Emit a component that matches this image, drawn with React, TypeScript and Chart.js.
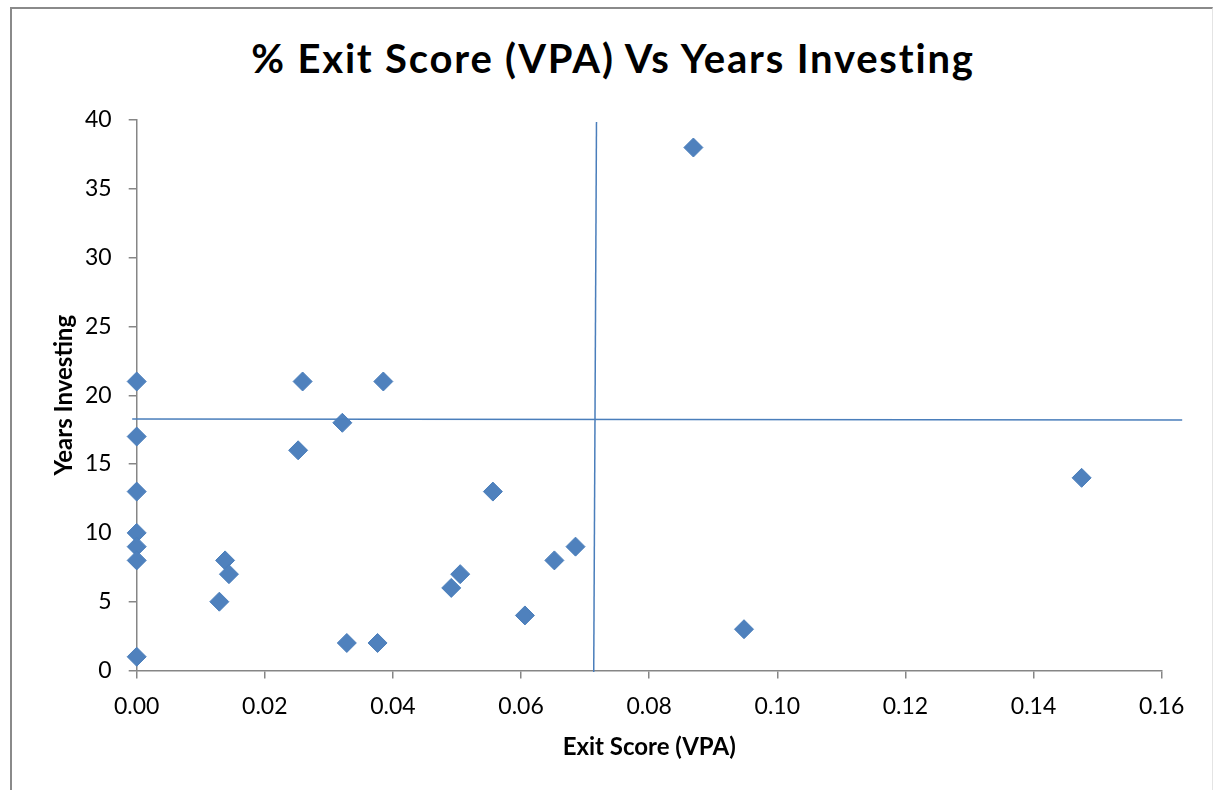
import React, { useEffect, useRef } from "react";
import { Chart, registerables } from "chart.js";

Chart.register(...registerables);

// Scatter data: Exit Score (VPA) vs Years Investing
const exitScores = [
  0.0, 0.0, 0.0, 0.0, 0.0, 0.0, 0.0,
  0.0259, 0.0385, 0.0321, 0.0252, 0.0138, 0.0144, 0.0129, 0.0328, 0.0376,
  0.0491, 0.0505, 0.0556, 0.0606, 0.0652, 0.0685, 0.0869, 0.0948, 0.1475,
];
const yearsInvesting = [
  21, 17, 13, 10, 9, 8, 1,
  21, 21, 18, 16, 8, 7, 5, 2, 2,
  6, 7, 13, 4, 8, 9, 38, 3, 14,
];

// Reference (average) lines drawn across the plot
const horizLineX = [-0.0007, 0.1632];
const horizLineY = [18.28, 18.2];
const vertLineX = [0.07177, 0.07134];
const vertLineY = [39.86, -0.11];

const xTicks = [0, 0.02, 0.04, 0.06, 0.08, 0.1, 0.12, 0.14, 0.16];
const yTicks = [0, 5, 10, 15, 20, 25, 30, 35, 40];

const TITLE = "% Exit Score (VPA) Vs Years Investing";
const X_TITLE = "Exit Score (VPA)";
const Y_TITLE = "Years Investing";

const BLUE = "#4F81BD";
const BLUE_EDGE = "#4A7EBB";
const AXIS_GRAY = "#868686";
const FONT = "Lato, 'Open Sans', sans-serif";

export default function App() {
  const canvasRef = useRef<HTMLCanvasElement | null>(null);

  useEffect(() => {
    if (!canvasRef.current) return;
    const points = exitScores.map((x, i) => ({ x, y: yearsInvesting[i] }));
    const hLine = horizLineX.map((x, i) => ({ x, y: horizLineY[i] }));
    const vLine = vertLineX.map((x, i) => ({ x, y: vertLineY[i] }));

    const chart = new Chart(canvasRef.current, {
      type: "scatter",
      data: {
        datasets: [
          {
            label: "h",
            data: hLine,
            showLine: true,
            borderColor: BLUE_EDGE,
            borderWidth: 1.5,
            pointRadius: 0,
            clip: false as any,
          },
          {
            label: "v",
            data: vLine,
            showLine: true,
            borderColor: BLUE_EDGE,
            borderWidth: 1.5,
            pointRadius: 0,
            clip: false as any,
          },
          {
            label: "Years Investing",
            data: points,
            pointStyle: "rectRot",
            pointRadius: 9.5,
            pointHoverRadius: 9.5,
            backgroundColor: BLUE,
            borderColor: BLUE_EDGE,
            borderWidth: 1,
            clip: false as any,
          },
        ],
      },
      options: {
        animation: false,
        responsive: false,
        maintainAspectRatio: false,
        layout: { padding: { left: 0, top: 120, right: 52.3, bottom: 0 } },
        plugins: {
          legend: { display: false },
          tooltip: { enabled: false },
          title: { display: false },
        },
        scales: {
          x: {
            type: "linear",
            min: 0,
            max: 0.16,
            afterBuildTicks: (scale: any) => {
              scale.ticks = xTicks.map((v) => ({ value: v }));
            },
            afterFit: (scale: any) => {
              scale.height = 119.5;
            },
            grid: {
              drawOnChartArea: false,
              drawTicks: true,
              tickLength: 8,
              color: AXIS_GRAY,
              lineWidth: 1.5,
            },
            border: { display: true, color: AXIS_GRAY, width: 1.5 },
            ticks: {
              padding: 14,
              color: "#000",
              font: { family: FONT, size: 23 },
              maxRotation: 0,
              callback: (v: any) => Number(v).toFixed(2),
            },
            title: {
              display: true,
              text: X_TITLE,
              color: "#000",
              font: { family: FONT, size: 24, weight: "bold" },
              padding: { top: 0, bottom: 28.6 },
            },
          },
          y: {
            type: "linear",
            min: 0,
            max: 40,
            afterBuildTicks: (scale: any) => {
              scale.ticks = yTicks.map((v) => ({ value: v }));
            },
            afterFit: (scale: any) => {
              scale.width = 136.7;
            },
            grid: {
              drawOnChartArea: false,
              drawTicks: true,
              tickLength: 8,
              color: AXIS_GRAY,
              lineWidth: 1.5,
            },
            border: { display: true, color: AXIS_GRAY, width: 1.5 },
            ticks: {
              padding: 17,
              color: "#000",
              font: { family: FONT, size: 23 },
              callback: (v: any) => String(v),
            },
            title: {
              display: true,
              text: Y_TITLE,
              color: "#000",
              font: { family: FONT, size: 24, weight: "bold" },
              padding: { top: 49.6, bottom: 0 },
            },
          },
        },
      },
    });
    return () => chart.destroy();
  }, []);

  return (
    <div
      style={{
        position: "fixed",
        left: 0,
        top: 0,
        width: 1214,
        height: 790,
        background: "#fff",
        overflow: "hidden",
      }}
    >
      <div
        style={{
          position: "absolute",
          left: 10,
          top: 7,
          width: 1200,
          height: 820,
          borderLeft: "2px solid #8a8a8a",
          borderTop: "2px solid #8a8a8a",
          borderRight: "1px solid #e4e4e4",
        }}
      />
      <div
        style={{
          position: "absolute",
          left: 0,
          top: 38,
          width: 1226,
          textAlign: "center",
          fontFamily: FONT,
          fontWeight: 700,
          fontSize: 40,
          lineHeight: "40px",
          letterSpacing: "1.8px",
          color: "#000",
          whiteSpace: "nowrap",
        }}
      >
        {TITLE}
      </div>
      <canvas
        ref={canvasRef}
        width={1214}
        height={790}
        style={{ position: "absolute", left: 0, top: 0, width: 1214, height: 790 }}
      />
    </div>
  );
}
